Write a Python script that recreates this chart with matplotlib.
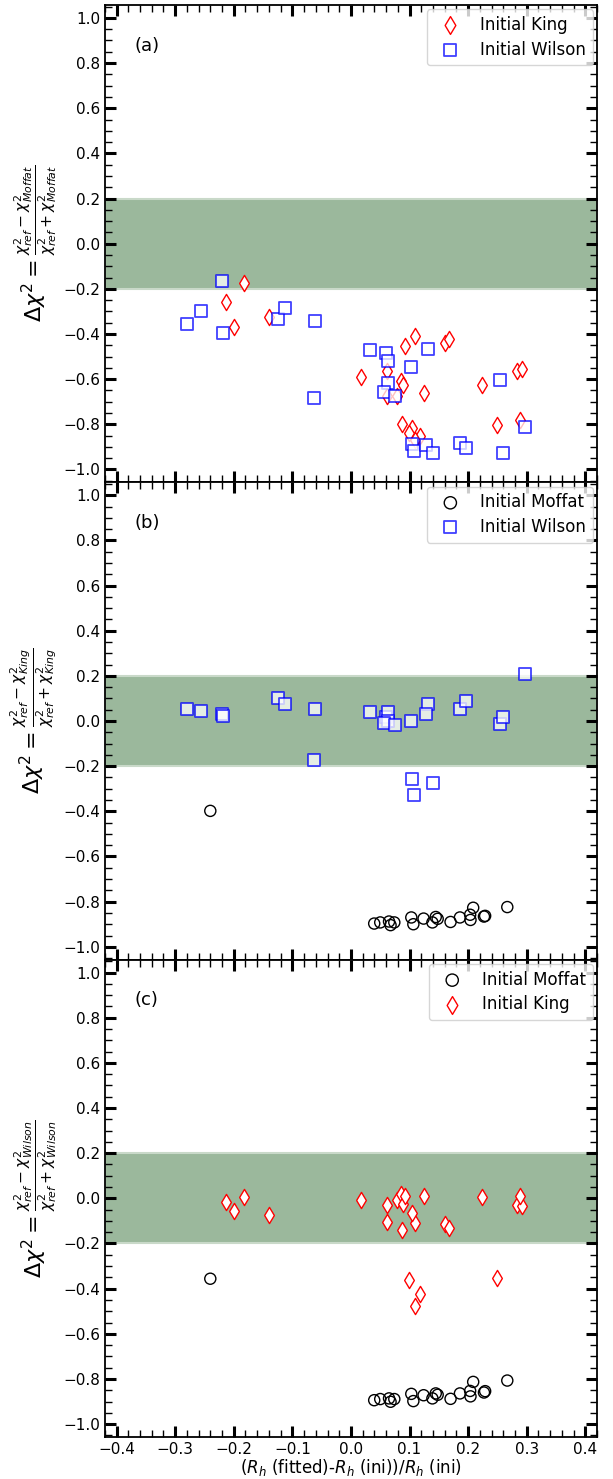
import matplotlib
matplotlib.use("Agg")
import matplotlib.pyplot as plt
from matplotlib.ticker import MultipleLocator

# initial King profiles
king_x = [-0.214, -0.199, -0.182, -0.140, 0.0175, 0.061, 0.061, 0.079, 0.0848,
          0.089, 0.093, 0.109, 0.124, 0.161, 0.1675, 0.0876, 0.105, 0.099,
          0.118, 0.109, 0.2235, 0.2486, 0.284, 0.292, 0.2885]
king_vs_moffat = [-0.26, -0.367, -0.174, -0.324, -0.59, -0.566, -0.676, -0.673,
                  -0.609, -0.624, -0.454, -0.41, -0.661, -0.44, -0.42, -0.80,
                  -0.817, -0.84, -0.853, -0.869, -0.625, -0.802, -0.565, -0.555,
                  -0.779]
king_vs_wilson = [-0.015, -0.057, 0.006, -0.074, -0.006, -0.030, -0.103, -0.009,
                  0.018, -0.027, 0.010, -0.108, 0.010, -0.115, -0.130, -0.14,
                  -0.063, -0.363, -0.422, -0.475, 0.007, -0.351, -0.031, -0.034,
                  0.010]

# initial Wilson profiles
wilson_x = [-0.279, -0.256, -0.220, -0.219, -0.125, -0.113, -0.062, -0.0625,
            0.033, 0.0596, 0.064, 0.063, 0.057, 0.0745, 0.102, 0.132, 0.1036,
            0.108, 0.1276, 0.14, 0.1858, 0.197, 0.2537, 0.26, 0.297]
wilson_vs_moffat = [-0.354, -0.298, -0.167, -0.394, -0.333, -0.286, -0.341,
                    -0.684, -0.473, -0.484, -0.518, -0.616, -0.659, -0.674,
                    -0.547, -0.468, -0.886, -0.919, -0.892, -0.926, -0.884,
                    -0.904, -0.603, -0.928, -0.814]
wilson_vs_king = [0.053, 0.046, 0.030, 0.020, 0.10, 0.077, 0.052, -0.173, 0.038,
                  0.019, 0.041, 0.001, -0.010, -0.019, 0.001, 0.074, -0.258,
                  -0.327, 0.030, -0.274, 0.052, 0.087, -0.012, 0.018, 0.207]

# initial Moffat profiles
moffat_x = [-0.240, 0.0397, 0.050, 0.065, 0.074, 0.0676, 0.103, 0.1065, 0.124,
            0.139, 0.1447, 0.148, 0.170, 0.186, 0.2034, 0.2086, 0.204, 0.227,
            0.229, 0.2668]
moffat_vs_king = [-0.398, -0.897, -0.892, -0.888, -0.892, -0.904, -0.870, -0.900,
                  -0.875, -0.892, -0.868, -0.876, -0.890, -0.870, -0.858, -0.827,
                  -0.881, -0.866, -0.863, -0.824]
moffat_vs_wilson = [-0.356, -0.894, -0.889, -0.886, -0.889, -0.901, -0.866,
                    -0.898, -0.872, -0.886, -0.864, -0.870, -0.888, -0.864,
                    -0.853, -0.813, -0.877, -0.860, -0.854, -0.807]

ylabels = [
    r"$\Delta\chi^2 = \frac{\chi^2_{ref}-\chi^2_{Moffat}}{\chi^2_{ref}+\chi^2_{Moffat}}$",
    r"$\Delta\chi^2 = \frac{\chi^2_{ref}-\chi^2_{King}}{\chi^2_{ref}+\chi^2_{King}}$",
    r"$\Delta\chi^2 = \frac{\chi^2_{ref}-\chi^2_{Wilson}}{\chi^2_{ref}+\chi^2_{Wilson}}$",
]
panel_tags = ["(a)", "(b)", "(c)"]

moffat_style = dict(marker="o", s=64, facecolors="none", edgecolors="black",
                    linewidths=1.0, label="Initial Moffat", zorder=3)
king_style = dict(marker="d", s=68, facecolors="white", edgecolors="red",
                  linewidths=1.0, label="Initial King", zorder=3)
wilson_style = dict(marker="s", s=72, facecolors="white", edgecolors="blue",
                    linewidths=1.3, alpha=0.75, label="Initial Wilson", zorder=3)

fig = plt.figure(figsize=(6.13, 14.79), dpi=100)
gs = fig.add_gridspec(3, 1, left=0.171, right=0.974, bottom=0.0284,
                      top=0.9966, hspace=0)
axes = [fig.add_subplot(gs[i]) for i in range(3)]

axes[0].scatter(king_x, king_vs_moffat, **king_style)
axes[0].scatter(wilson_x, wilson_vs_moffat, **wilson_style)

axes[1].scatter(moffat_x, moffat_vs_king, **moffat_style)
axes[1].scatter(wilson_x, wilson_vs_king, **wilson_style)

axes[2].scatter(moffat_x, moffat_vs_wilson, **moffat_style)
axes[2].scatter(king_x, king_vs_wilson, **king_style)

for i, ax in enumerate(axes):
    ax.axhspan(-0.2, 0.2, facecolor="#9bb89c", edgecolor="#c9d9c9",
               linewidth=1.5, zorder=1)
    ax.set_xlim(-0.42, 0.42)
    ax.set_ylim(-1.057, 1.057)
    ax.xaxis.set_major_locator(MultipleLocator(0.1))
    ax.xaxis.set_minor_locator(MultipleLocator(0.02))
    ax.yaxis.set_major_locator(MultipleLocator(0.2))
    ax.yaxis.set_minor_locator(MultipleLocator(0.05))
    ax.tick_params(which="both", direction="in", top=True, right=True,
                   labelsize=11)
    ax.tick_params(which="major", length=8, width=2.2)
    ax.tick_params(which="minor", length=5, width=1)
    for sp in ax.spines.values():
        sp.set_linewidth(1.3)
    ax.set_ylabel(ylabels[i], fontsize=16, labelpad=2)
    ax.text(0.06, 0.915, panel_tags[i], transform=ax.transAxes, fontsize=13,
            va="center")
    ax.legend(loc="upper right", fontsize=12, handletextpad=0.8,
              borderpad=0.4, labelspacing=0.4, borderaxespad=0.25,
              markerscale=1.1)
    if i < 2:
        ax.tick_params(labelbottom=False)

axes[2].set_xlabel(r"($R_h$ (fitted)-$R_h$ (ini))/$R_h$ (ini)", fontsize=12,
                   labelpad=0)

fig.savefig("out.png", dpi=100)
